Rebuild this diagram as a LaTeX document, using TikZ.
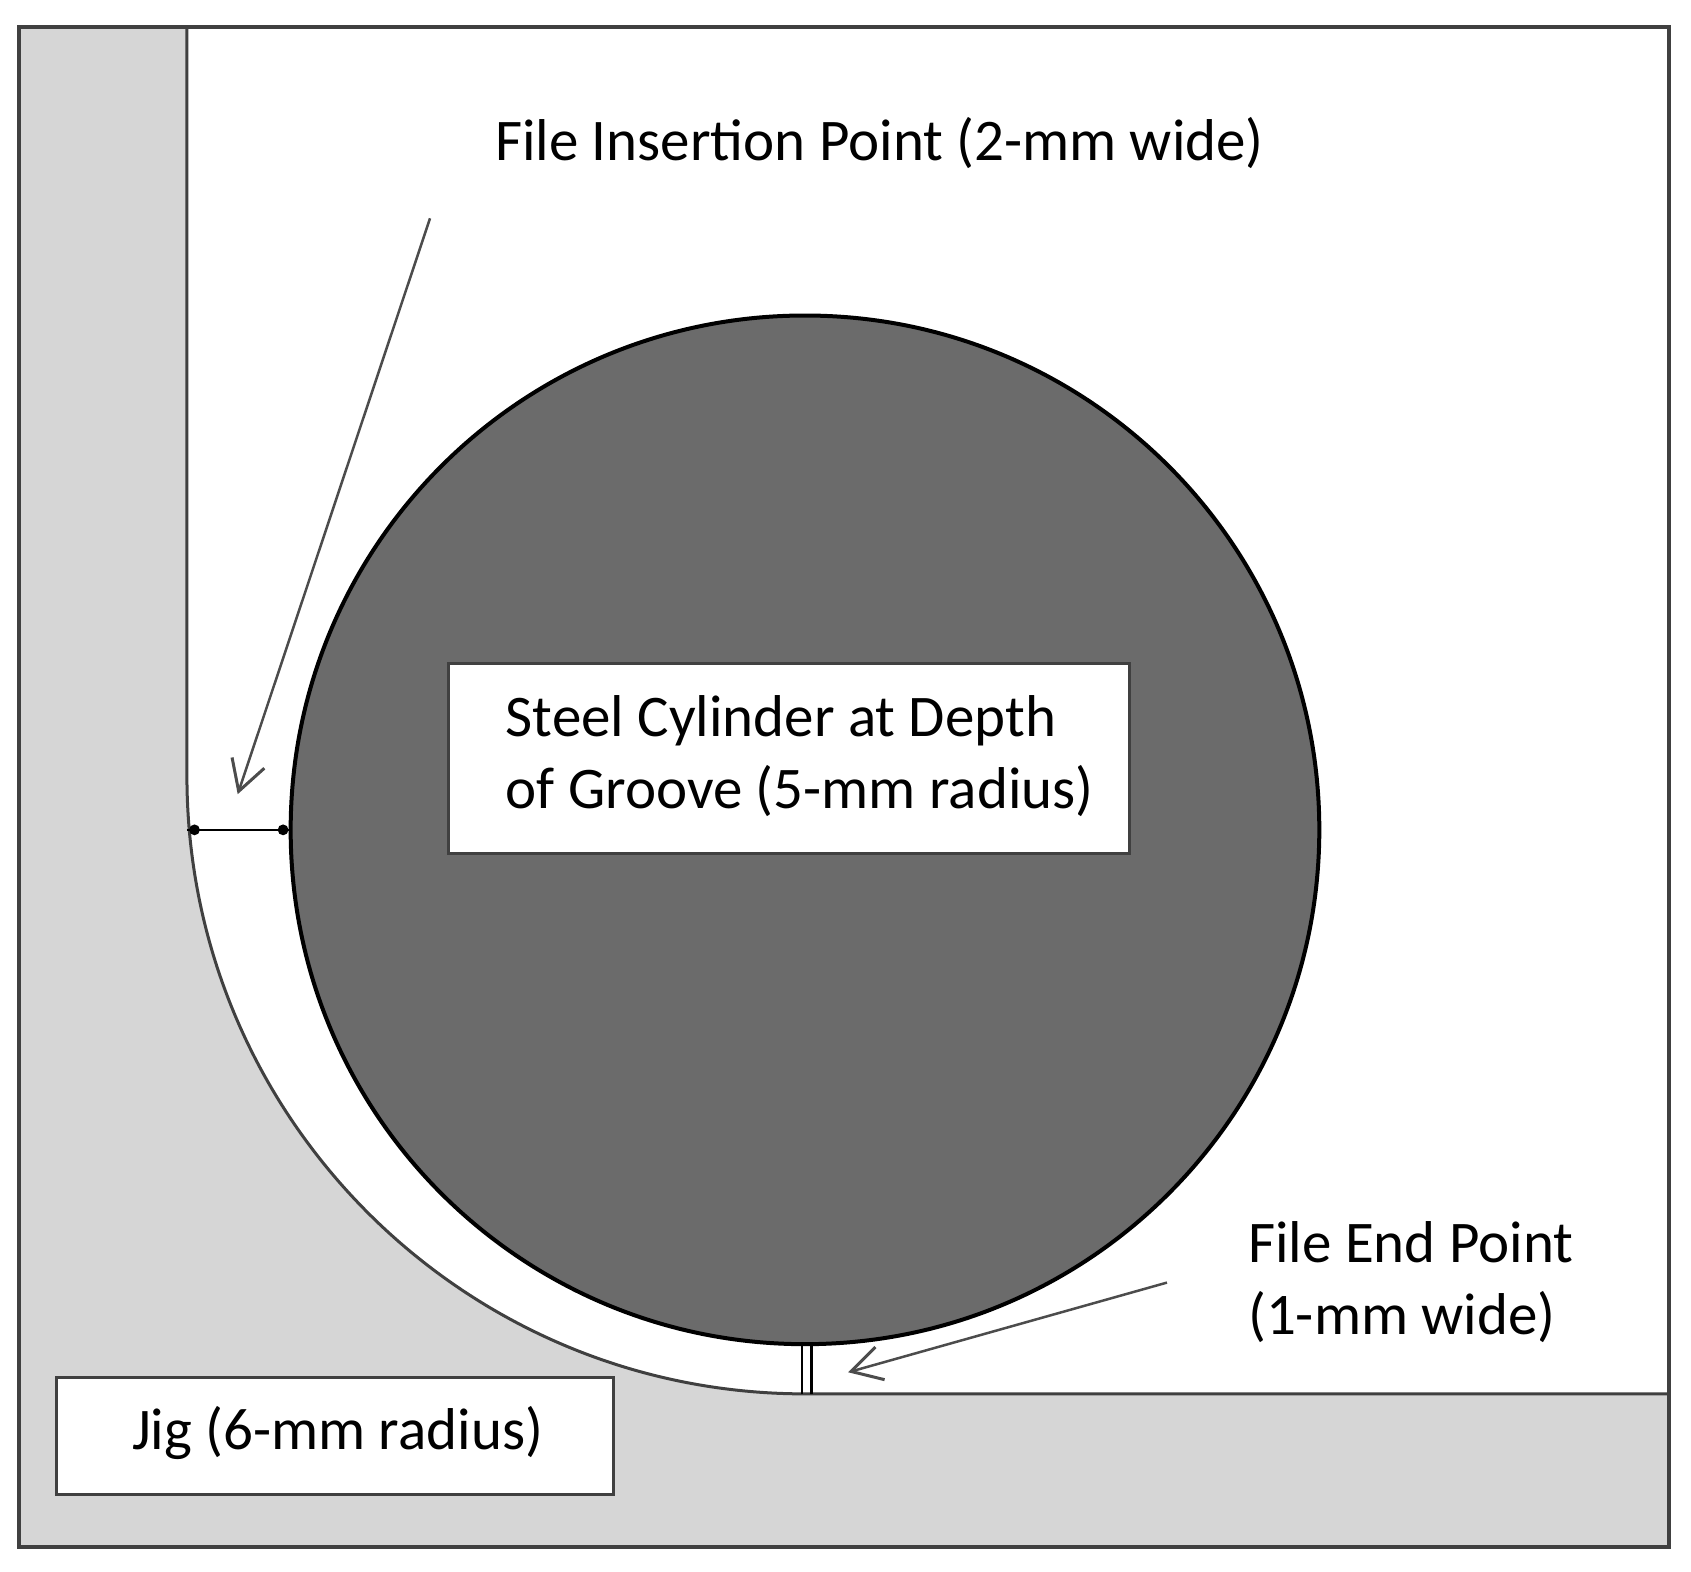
\documentclass[tikz,border=0pt]{standalone}
\usepackage{fontspec}
\setmainfont{Carlito}
\usetikzlibrary{arrows.meta}
\definecolor{jig}{HTML}{D6D6D6}
\definecolor{cyl}{HTML}{6B6B6B}
\tikzset{lbl/.style={font=\fontsize{59}{72}\selectfont,inner sep=0pt,align=left},
 arr/.style={draw=black!70,line width=2.5pt,-{Straight Barb[length=30pt,width=34pt,line width=3pt]}},
 box/.style={draw=black!75,line width=3pt,fill=white}}
\begin{document}
\begin{tikzpicture}[x=1.0805pt,y=-1.0805pt]
\useasboundingbox (0,0) rectangle (1565,1454);
\fill[jig] (18,25) rectangle (1545,1432);
\fill[white] (173,25) -- (1545,25) -- (1545,1290) -- (745,1290) arc[start angle=90,end angle=180,radius=572] -- cycle;
\draw[black!75,line width=3pt] (173,25) -- (173,718) arc[start angle=180,end angle=90,radius=572] -- (1545,1290);
\draw[black!75,line width=4pt] (18,25) rectangle (1545,1432);
\node[circle,draw=black,line width=4pt,fill=cyl,minimum size=952*1.0805pt,inner sep=0pt] (cyl) at (745,768) {};
\draw[black,line width=2.5pt] (173,768) -- (268,768);
\fill (180,768) circle (5) (262,768) circle (5);
\draw[black,line width=2.5pt] (742,1243) -- (742,1290) (751,1243) -- (751,1290);
\node[box,minimum width=630*1.0805pt,minimum height=175*1.0805pt] (lab) at (730,702) {};
\node[lbl,anchor=west] (labt) at (468,700) {Steel Cylinder at Depth\\of Groove (5-mm radius)};
\node[box,minimum width=516*1.0805pt,minimum height=108*1.0805pt] (jb) at (310,1329) {};
\node[lbl,anchor=west] (jt) at (122,1326) {Jig (6-mm radius)};
\node[lbl,anchor=west] (ins) at (458,132) {File Insertion Point (2-mm wide)};
\node[lbl,anchor=west] (end) at (1155,1187) {File End Point\\(1-mm wide)};
\coordinate (a1) at (398,202); \coordinate (b1) at (220,735);
\coordinate (a2) at (1080,1187); \coordinate (b2) at (785,1270);
\draw[arr] (a1) -- (b1);
\draw[arr] (a2) -- (b2);
\end{tikzpicture}
\end{document}
